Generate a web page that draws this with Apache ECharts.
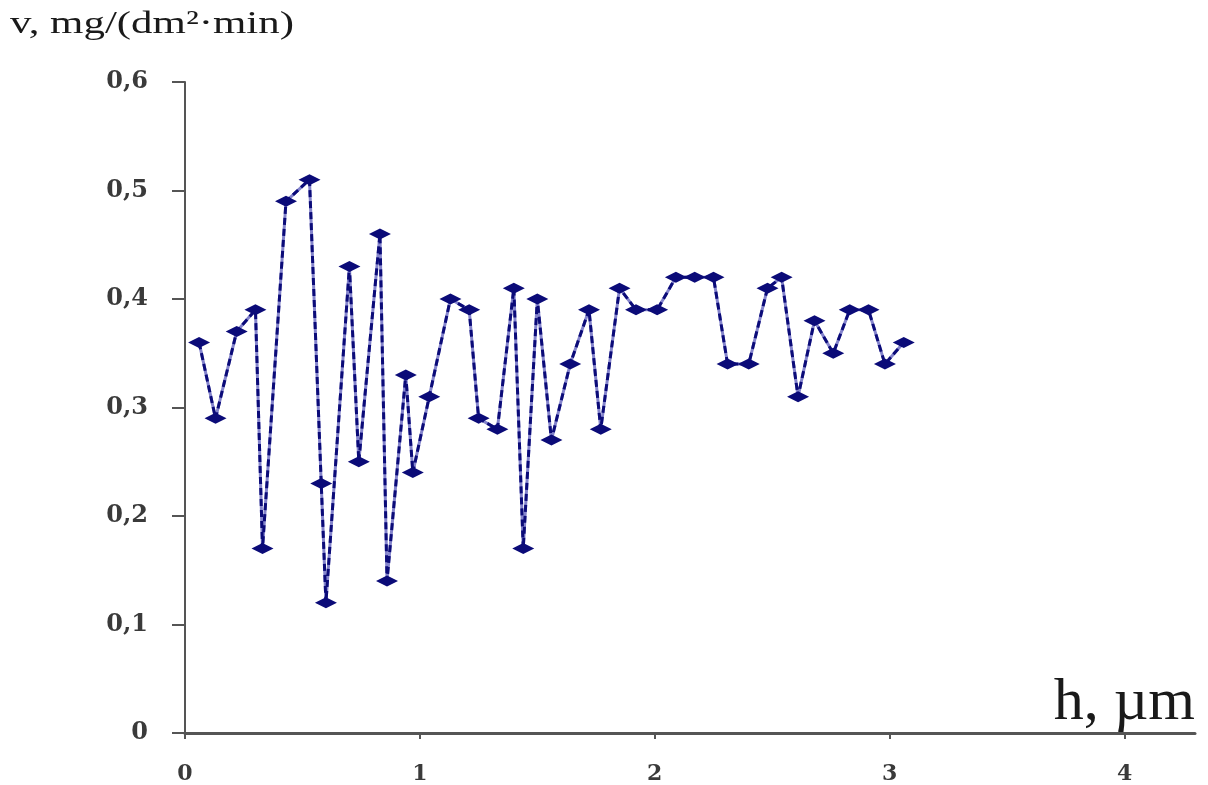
<!DOCTYPE html>
<html>
<head>
<meta charset="utf-8">
<script src="https://cdn.jsdelivr.net/npm/echarts@6/dist/echarts.min.js"></script>
<style>
  html, body { margin: 0; padding: 0; background: #fff; }
  #chart { width: 1208px; height: 785px; }
</style>
</head>
<body>
<div id="chart"></div>
<script>
// thickness h (µm) and dissolution rate v (mg/(dm2·min))
var hValues = [0.06, 0.13, 0.22, 0.30, 0.33, 0.43, 0.53, 0.58, 0.60, 0.70,
    0.74, 0.83, 0.86, 0.94, 0.97, 1.04, 1.13, 1.21, 1.25, 1.33,
    1.40, 1.44, 1.50, 1.56, 1.64, 1.72, 1.77, 1.85, 1.92, 2.01,
    2.09, 2.17, 2.25, 2.31, 2.40, 2.48, 2.54, 2.61, 2.68, 2.76,
    2.83, 2.91, 2.98, 3.06];
var vValues = [0.36, 0.29, 0.37, 0.39, 0.17, 0.49, 0.51, 0.23, 0.12, 0.43,
    0.25, 0.46, 0.14, 0.33, 0.24, 0.31, 0.40, 0.39, 0.29, 0.28,
    0.41, 0.17, 0.40, 0.27, 0.34, 0.39, 0.28, 0.41, 0.39, 0.39,
    0.42, 0.42, 0.42, 0.34, 0.34, 0.41, 0.42, 0.31, 0.38, 0.35,
    0.39, 0.39, 0.34, 0.36];
var xTicks = [0, 1, 2, 3, 4];
var yTicks = [0, 0.1, 0.2, 0.3, 0.4, 0.5, 0.6];

var points = hValues.map(function (h, i) {
    return [h, vValues[i]];
});

function commaLabel(v) {
    if (v === 0) return '0';
    return v.toFixed(1).replace('.', ',');
}

var myChart = echarts.init(document.getElementById('chart'));
var serif = '"Liberation Serif", "DejaVu Serif", serif';
var tickFont = '"DejaVu Serif", serif';

myChart.setOption({
    backgroundColor: '#fff',
    animation: false,
    grid: { left: 185, right: 13, top: 82, bottom: 52 },
    xAxis: {
        type: 'value',
        min: 0,
        max: 4.3,
        splitLine: { show: false },
        axisLine: { lineStyle: { color: '#555', width: 3 } },
        axisTick: { customValues: xTicks, length: 6, lineStyle: { color: '#555', width: 2 } },
        axisLabel: {
            customValues: xTicks,
            formatter: function (v) { return String(v); },
            margin: 30,
            color: '#3a3a3a',
            fontFamily: tickFont,
            fontWeight: 'bold',
            fontSize: 22
        }
    },
    yAxis: {
        type: 'value',
        min: 0,
        max: 0.6,
        interval: 0.1,
        splitLine: { show: false },
        axisLine: { show: true, lineStyle: { color: '#555', width: 2 } },
        axisTick: { show: true, length: 13, lineStyle: { color: '#555', width: 2 } },
        axisLabel: {
            customValues: yTicks,
            formatter: commaLabel,
            margin: 37,
            color: '#3a3a3a',
            fontFamily: tickFont,
            fontWeight: 'bold',
            fontSize: 24
        }
    },
    graphic: [
        {
            type: 'text',
            x: 10,
            y: 9,
            scaleX: 1.34,
            style: {
                text: 'v, mg/(dm²·min)',
                font: '32px ' + serif,
                fill: '#1a1a1a'
            }
        },
        {
            type: 'text',
            x: 1195,
            y: 733,
            style: {
                text: 'h, µm',
                font: '60px ' + serif,
                fill: '#1a1a1a',
                align: 'right',
                verticalAlign: 'bottom'
            }
        }
    ],
    series: [
        {
            type: 'line',
            data: points,
            symbol: 'none',
            lineStyle: { color: '#8484cc', width: 3 },
            z: 2
        },
        {
            type: 'line',
            data: points,
            symbol: 'diamond',
            symbolSize: [22, 11],
            itemStyle: { color: '#0b0b78' },
            lineStyle: { color: '#0b0b78', width: 3, type: [7, 4] },
            z: 3
        }
    ]
});
</script>
</body>
</html>
